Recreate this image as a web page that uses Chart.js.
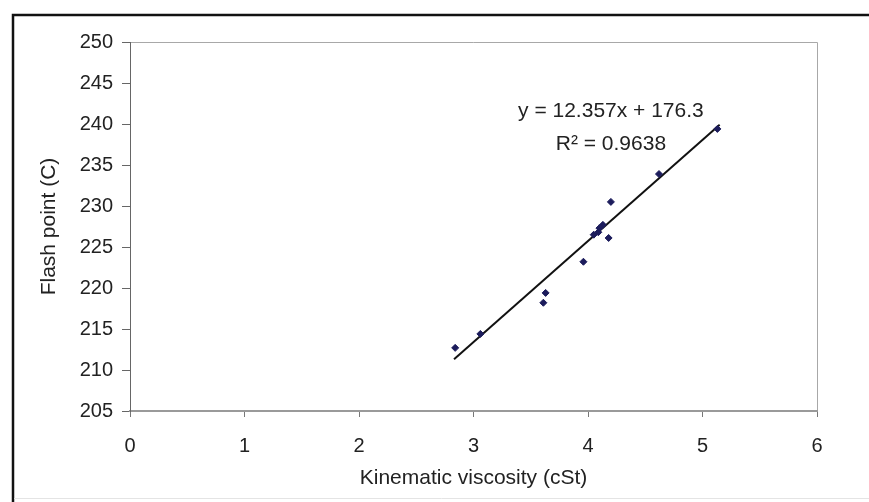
<!DOCTYPE html>
<html>
<head>
<meta charset="utf-8">
<script src="https://cdn.jsdelivr.net/npm/chart.js@4"></script>
<style>
  body { margin: 0; background: #fff; }
  #wrap { position: absolute; left: 0; top: 0; width: 869px; height: 502px; }
</style>
</head>
<body>
<div id="wrap"><canvas id="chart" width="869" height="502"></canvas></div>
<script>
// datos
const viscosity = [2.84, 3.06, 3.61, 3.63, 3.96, 4.05, 4.09, 4.10, 4.13, 4.18, 4.20, 4.62, 5.13];
const flashPoint = [212.7, 214.4, 218.2, 219.4, 223.2, 226.5, 226.8, 227.3, 227.7, 226.1, 230.5, 233.9, 239.4];
const trendX = [2.83, 5.15];
const trendY = [211.3, 239.9];
const xTicks = [0, 1, 2, 3, 4, 5, 6];
const yTicks = [205, 210, 215, 220, 225, 230, 235, 240, 245, 250];
const trendText = ['y = 12.357x + 176.3', 'R² = 0.9638'];

const FONT = 'Liberation Sans, Arial, sans-serif';

// marco y textos de la linea de tendencia
const framePlugin = {
  id: 'frame',
  beforeDraw(chart) {
    const c = chart.ctx;
    c.save();
    c.fillStyle = '#fff';
    c.fillRect(0, 0, chart.width, chart.height);
    c.strokeStyle = '#111';
    c.lineWidth = 2.5;
    c.beginPath();
    c.moveTo(13, 502);
    c.lineTo(13, 15);
    c.lineTo(869, 15);
    c.stroke();
    c.strokeStyle = '#e4e4e4';
    c.lineWidth = 1;
    c.beginPath();
    c.moveTo(14, 498.5);
    c.lineTo(869, 498.5);
    c.stroke();
    const a = chart.chartArea;
    c.strokeStyle = '#a8a8a8';
    c.lineWidth = 1;
    c.beginPath();
    c.moveTo(a.left, a.top + 0.5);
    c.lineTo(a.right + 0.5, a.top + 0.5);
    c.lineTo(a.right + 0.5, a.bottom);
    c.stroke();
    c.restore();
  },
  afterDatasetsDraw(chart) {
    const c = chart.ctx;
    const xs = chart.scales.x, ys = chart.scales.y;
    const px = xs.getPixelForValue(4.2);
    const py = ys.getPixelForValue(241.5);
    c.save();
    c.fillStyle = '#222';
    c.font = '21px ' + FONT;
    c.textAlign = 'center';
    c.textBaseline = 'middle';
    c.fillText(trendText[0], px, py);
    c.fillText(trendText[1], px, py + 33);
    c.restore();
  }
};

const ctx = document.getElementById('chart').getContext('2d');
new Chart(ctx, {
  type: 'scatter',
  data: {
    datasets: [{
      label: 'Datos',
      data: viscosity.map((v, i) => ({ x: v, y: flashPoint[i] })),
      pointStyle: 'rectRot',
      pointRadius: 3.5,
      backgroundColor: '#1c1c5c',
      borderColor: '#1c1c5c',
      borderWidth: 1
    }, {
      label: 'Tendencia',
      type: 'line',
      data: trendX.map((v, i) => ({ x: v, y: trendY[i] })),
      borderColor: '#111',
      borderWidth: 2,
      pointRadius: 0,
      fill: false
    }]
  },
  options: {
    responsive: false,
    animation: false,
    layout: { padding: { left: 0, right: 52, top: 42, bottom: 0 } },
    plugins: { legend: { display: false }, tooltip: { enabled: false } },
    scales: {
      x: {
        type: 'linear',
        min: 0, max: 6,
        afterBuildTicks: (s) => { s.ticks = xTicks.map(v => ({ value: v })); },
        afterFit: (s) => { s.height = 91; },
        border: { color: '#9a9a9a', width: 2 },
        grid: { drawOnChartArea: false, color: '#777', tickLength: 6 },
        ticks: { color: '#222', font: { family: FONT, size: 20 }, padding: 17 },
        title: {
          display: true, text: 'Kinematic viscosity (cSt)', color: '#222',
          font: { family: FONT, size: 21 }, padding: { top: 11, bottom: 11 }
        }
      },
      y: {
        type: 'linear',
        min: 205, max: 250,
        afterBuildTicks: (s) => { s.ticks = yTicks.map(v => ({ value: v })); },
        afterFit: (s) => { s.width = 130; },
        border: { color: '#666', width: 1 },
        grid: { drawOnChartArea: false, color: '#666', tickLength: 8 },
        ticks: { color: '#222', font: { family: FONT, size: 20 }, padding: 9 },
        title: {
          display: true, text: 'Flash point (C)', color: '#222',
          font: { family: FONT, size: 21 }, padding: { top: 37, bottom: 37 }
        }
      }
    }
  },
  plugins: [framePlugin]
});
</script>
</body>
</html>
